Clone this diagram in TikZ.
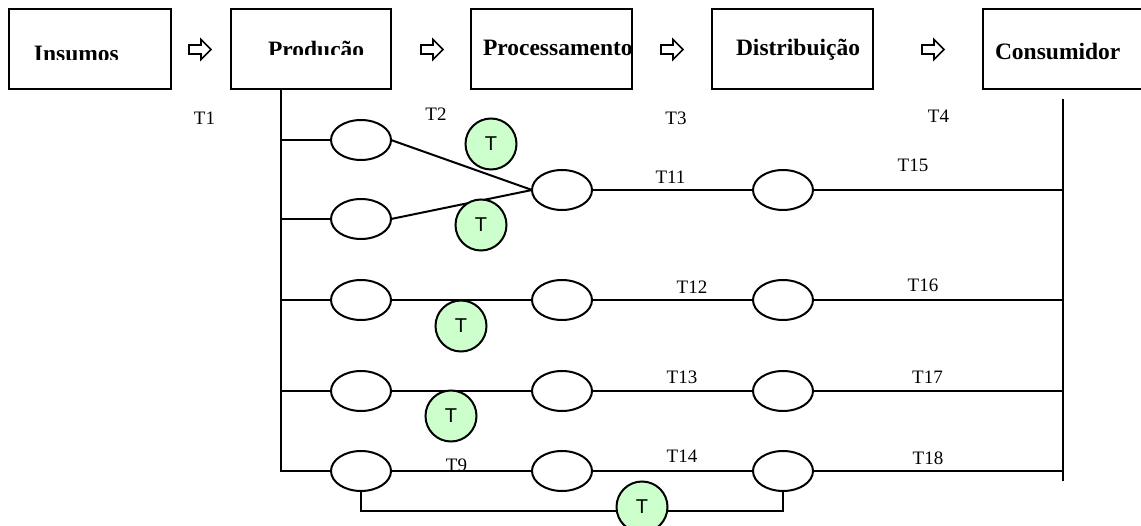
\documentclass[tikz,border=0pt]{standalone}
\usepackage{fontspec}
\setmainfont{Liberation Serif}
\newfontfamily\sansT{Liberation Sans}
\usetikzlibrary{shapes.geometric}
\definecolor{tgreen}{RGB}{204,255,204}
\begin{document}
\begin{tikzpicture}[x=1pt,y=-1pt,line width=2pt,
  stagebox/.style={draw,rectangle,line width=2pt,inner sep=0pt,outer sep=0pt,anchor=north west,minimum height=80pt},
  stagetext/.style={anchor=base west,inner sep=0pt,font=\fontsize{23.5}{28}\selectfont\bfseries},
  oval/.style={draw,ellipse,inner sep=0pt,outer sep=0pt,minimum width=60pt,minimum height=40pt,line width=2pt},
  tlab/.style={inner sep=0pt,font=\fontsize{19}{22}\selectfont},
  tcirc/.style={draw,circle,fill=tgreen,inner sep=0pt,outer sep=0pt,minimum size=51pt,line width=2pt,font=\sansT\fontsize{20}{22}\selectfont},
  rarrow/.pic={\draw[line width=1.6pt,fill=white] (0,-4.5) -- (12,-4.5) -- (12,-10) -- (22,0) -- (12,10) -- (12,4.5) -- (0,4.5) -- cycle;}
]
\clip (0,0) rectangle (1141,526);
\fill[white] (0,0) rectangle (1141,526);

% stage boxes
\node[stagebox,minimum width=162pt] (ins) at (9,9) {};
\node[stagebox,minimum width=160pt] (prod) at (231,9) {};
\node[stagebox,minimum width=161pt] (proc) at (471,9) {};
\node[stagebox,minimum width=161pt] (dist) at (712,9) {};
\node[stagebox,minimum width=180pt] (cons) at (983,9) {};

% stage labels
\begin{scope}
  \clip (10,10) rectangle (170,59.5);
  \node[stagetext] (tins) at (33,61.5) {Insumos};
\end{scope}
\begin{scope}
  \clip (232,10) rectangle (390,55);
  \node[stagetext] (tprod) at (267,57.5) {Produção};
\end{scope}
\node[stagetext] (tproc) at (482,56) {Processamento};
\node[stagetext] (tdist) at (735,56) {Distribuição};
\node[stagetext] (tcons) at (994,60) {Consumidor};

% arrows between stages
\pic at (189,49.5) {rarrow};
\pic at (421,49.5) {rarrow};
\pic at (661,49.5) {rarrow};
\pic at (922,49.5) {rarrow};

% ovals
\node[oval] (e1) at (361,140) {};
\node[oval] (e2) at (361,219) {};
\node[oval] (c1) at (562,190) {};
\node[oval] (d1) at (783,190) {};
\node[oval] (e3) at (361,300) {};
\node[oval] (c3) at (562,300) {};
\node[oval] (d3) at (783,300) {};
\node[oval] (e4) at (361,391) {};
\node[oval] (c4) at (562,391) {};
\node[oval] (d4) at (783,391) {};
\node[oval] (e5) at (361,471) {};
\node[oval] (c5) at (562,471) {};
\node[oval] (d5) at (783,471) {};

% verticals
\coordinate (lv) at (281,89);
\coordinate (rvt) at (1063,99);
\coordinate (rvb) at (1063,481);
\coordinate (bb) at (0,511);
\draw (lv) |- (e5.west);
\draw (rvt) -- (rvb);
\draw (lv |- e1.west) -- (e1.west);
\draw (lv |- e2.west) -- (e2.west);
\draw (lv |- e3.west) -- (e3.west);
\draw (lv |- e4.west) -- (e4.west);

% connectors
\draw (e1.east) -- (c1.west);
\draw (e2.east) -- (c1.west);
\draw (c1.east) -- (d1.west);
\draw (d1.east) -- (d1.east -| rvt);
\draw (e3.east) -- (c3.west);
\draw (c3.east) -- (d3.west);
\draw (d3.east) -- (d3.east -| rvt);
\draw (e4.east) -- (c4.west);
\draw (c4.east) -- (d4.west);
\draw (d4.east) -- (d4.east -| rvt);
\draw (e5.east) -- (c5.west);
\draw (c5.east) -- (d5.west);
\draw (d5.east) -- (d5.east -| rvt);
\draw (e5.south) -- (e5.south |- bb) -- (d5.south |- bb) -- (d5.south);

% T labels
\node[tlab] (t1) at (204.5,118) {T1};
\node[tlab] (t2) at (436,114.5) {T2};
\node[tlab] (t3) at (676,118) {T3};
\node[tlab] (t4) at (938.5,116.5) {T4};
\node[tlab] (t11) at (670.5,177) {T11};
\node[tlab] (t15) at (913,165) {T15};
\node[tlab] (t12) at (692,287.5) {T12};
\node[tlab] (t16) at (923,285) {T16};
\node[tlab] (t13) at (682,377.5) {T13};
\node[tlab] (t17) at (927.5,377) {T17};
\node[tlab] (t9) at (456.5,465.5) {T9};
\node[tlab] (t14) at (682,456.5) {T14};
\node[tlab] (t18) at (928,458.5) {T18};

% green T circles
\node[tcirc] (g1) at (491,144) {T};
\node[tcirc] (g2) at (481,225) {T};
\node[tcirc] (g3) at (461,326) {T};
\node[tcirc] (g4) at (451,416) {T};
\node[tcirc] (g5) at (642,507) {T};
\end{tikzpicture}
\end{document}
